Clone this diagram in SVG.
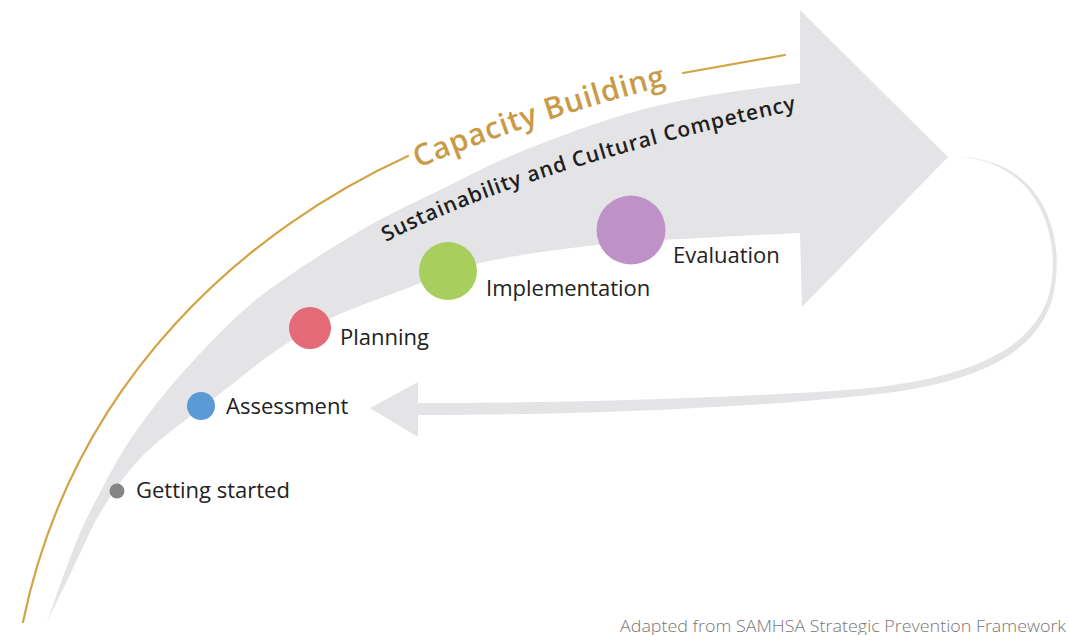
<svg xmlns="http://www.w3.org/2000/svg" width="1069" height="635" viewBox="0 0 1069 635">
  <defs>
    <style>
      .lbl { font-family: "Open Sans", "Noto Sans", "Liberation Sans", sans-serif; font-size: 22px; fill: #222222; }
      .band { fill: #E4E4E6; }
      .gold { fill: none; stroke: #D2A445; stroke-width: 2.2; stroke-linecap: round; }
    </style>
    <path id="capPath" d="M 418 168 Q 545 116 680 82"/>
    <path id="susPath" d="M 386 242 Q 525 170 796 110"/>
  </defs>
  <rect width="1069" height="635" fill="#FFFFFF"/>

  <g id="connectors">
    <path id="main-arrow" class="band" d="M 47 622 C 52 608.3, 67.7 562.5, 77 540 C 86.3 517.5, 94.2 503.7, 103 487 C 111.8 470.3, 119.5 455.8, 130 440 C 140.5 424.2, 152.7 408.2, 166 392 C 179.3 375.8, 195.7 357.8, 210 343 C 224.3 328.2, 238.2 314.7, 252 303 C 265.8 291.3, 278.3 283, 293 273 C 307.7 263, 324.7 252.3, 340 243 C 355.3 233.7, 368.3 225.8, 385 217 C 401.7 208.2, 418.7 200.3, 440 190 C 461.3 179.7, 484.2 167, 513 155 C 541.8 143, 581.8 127.7, 613 118 C 644.2 108.3, 668.8 102.8, 700 97 C 731.2 91.2, 783.3 85.3, 800 83 L 800 10 L 948 157 L 802 307 L 800 233 C 783.3 233.8, 733.8 236, 700 238 C 666.2 240, 633.7 240.8, 597 245 C 560.3 249.2, 512.8 255.3, 480 263 C 447.2 270.7, 425.5 281.5, 400 291 C 374.5 300.5, 348.7 309.3, 327 320 C 305.3 330.7, 288.3 342.3, 270 355 C 251.7 367.7, 235.3 381.8, 217 396 C 198.7 410.2, 174.5 427.7, 160 440 C 145.5 452.3, 140 457.8, 130 470 C 120 482.2, 108.8 498, 100 513 C 91.2 528, 85.8 541.8, 77 560 C 68.2 578.2, 52 611.7, 47 622 Z"/>
    <g id="return-arrow">
      <path class="band" d="M 960 157 C 1045 160, 1068 240, 1052 300 C 1035 355, 975 385, 860 396 C 720 410, 560 415, 416 415 L 416 403 C 560 403, 720 399, 860 389 C 970 378, 1030 350, 1048 298 C 1064 245, 1042 162, 960 157 Z"/>
      <polygon class="band" points="370,408 418,382 418,437"/>
    </g>
  </g>

  <g id="capacity-building">
    <path class="gold" d="M 23 622 C 74 376, 250 228, 408 156"/>
    <path class="gold" d="M 683 73 L 785 55"/>
    <text font-family="'Open Sans', 'Noto Sans', 'Liberation Sans', sans-serif" font-size="30" font-weight="600" fill="#C99B48"><textPath href="#capPath" textLength="262" lengthAdjust="spacing">Capacity Building</textPath></text>
  </g>

  <g id="sustainability">
    <text font-family="'Open Sans', 'Noto Sans', 'Liberation Sans', sans-serif" font-size="21" font-weight="600" fill="#1E1E1E"><textPath href="#susPath" textLength="432" lengthAdjust="spacing">Sustainability and Cultural Competency</textPath></text>
  </g>

  <g id="getting-started">
    <circle cx="117" cy="491" r="7.5" fill="#858585"/>
    <text class="lbl" x="136" y="498">Getting started</text>
  </g>
  <g id="assessment">
    <circle cx="201" cy="406" r="14" fill="#5B9BD5"/>
    <text class="lbl" x="226" y="414">Assessment</text>
  </g>
  <g id="planning">
    <circle cx="310" cy="328" r="21" fill="#E46A77"/>
    <text class="lbl" x="340" y="345">Planning</text>
  </g>
  <g id="implementation">
    <circle cx="448" cy="271" r="29" fill="#A8CF5E"/>
    <text class="lbl" x="486" y="296">Implementation</text>
  </g>
  <g id="evaluation">
    <circle cx="631" cy="230" r="34.5" fill="#BE92C7"/>
    <text class="lbl" x="673" y="263">Evaluation</text>
  </g>

  <g id="footer">
    <text x="620" y="632" font-family="'Open Sans', 'Noto Sans', 'Liberation Sans', sans-serif" font-size="17" font-weight="300" fill="#777777" textLength="446" lengthAdjust="spacingAndGlyphs">Adapted from SAMHSA Strategic Prevention Framework</text>
  </g>
</svg>
